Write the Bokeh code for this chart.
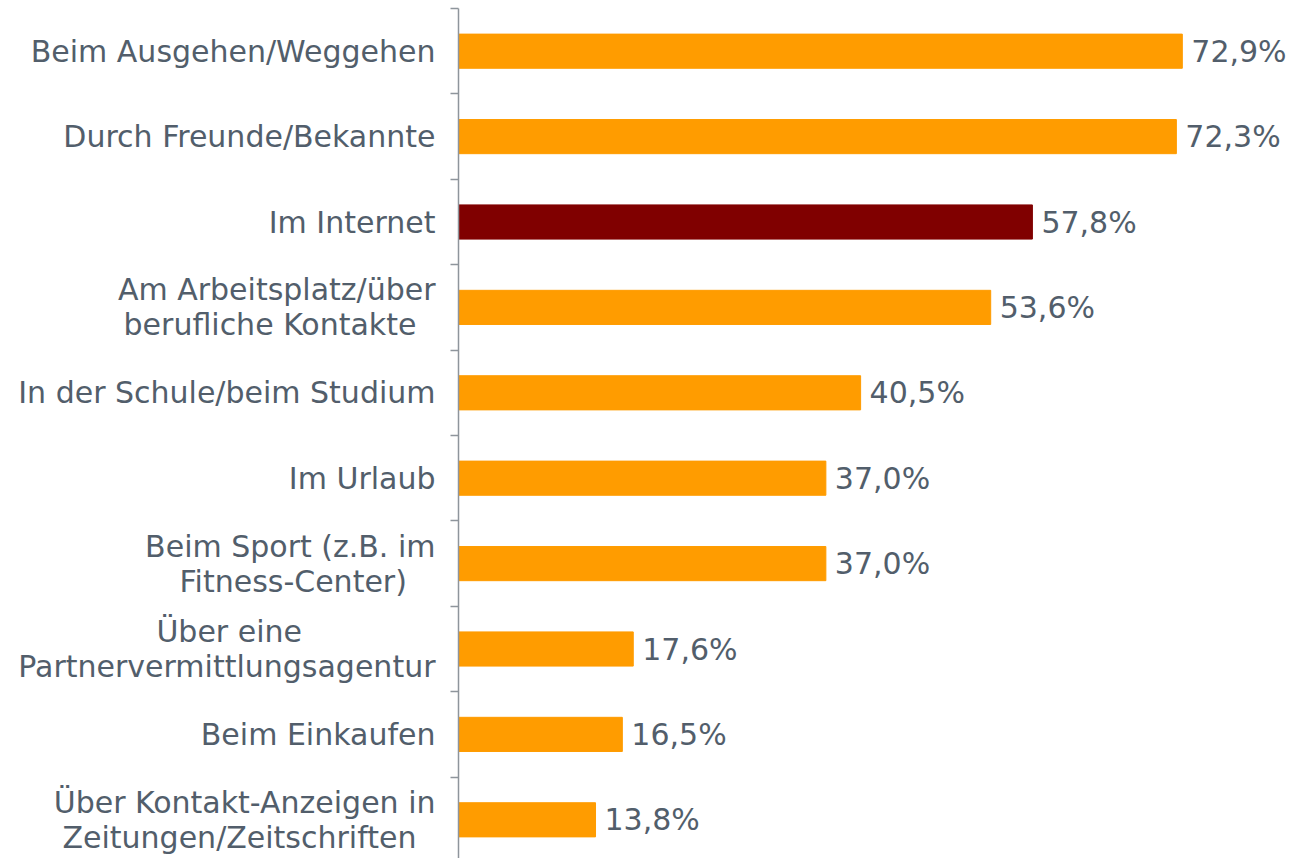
from bokeh.plotting import figure
from bokeh.models import Range1d, FixedTicker, LinearAxis, ColumnDataSource
from bokeh.embed import file_html
from bokeh.resources import INLINE
from bokeh.core.properties import value

NB = "\u00a0"
categories = [
    "Beim Ausgehen/Weggehen",
    "Durch Freunde/Bekannte",
    "Im Internet",
    "Am Arbeitsplatz/über\nberufliche Kontakte" + NB * 2,
    "In der Schule/beim Studium",
    "Im Urlaub",
    "Beim Sport (z.B. im\nFitness-Center)" + NB * 3,
    "Über eine" + NB * 14 + "\nPartnervermittlungsagentur",
    "Beim Einkaufen",
    "Über Kontakt-Anzeigen in\nZeitungen/Zeitschriften" + NB * 2,
]
values = [72.9, 72.3, 57.8, 53.6, 40.5, 37.0, 37.0, 17.6, 16.5, 13.8]
highlight = 2  # "Im Internet"

ORANGE = "#ff9c00"
DARKRED = "#800000"
TEXT = "#525e6b"
AXIS = "#8e959c"
FONT = "DejaVu Sans"

n = len(categories)
ys = [n - 0.5 - i for i in range(n)]
colors = [DARKRED if i == highlight else ORANGE for i in range(n)]
labels = [f"{v:.1f}%".replace(".", ",") for v in values]

src = ColumnDataSource(dict(y=ys, v=values, color=colors, label=labels))

FRAME_H = 850
BAND_PX = 85.4
p = figure(width=1297, height=858, output_backend="svg", toolbar_location=None,
           x_range=Range1d(0, 84.5), y_range=Range1d(n - FRAME_H / BAND_PX, n),
           min_border_left=458, min_border_right=0, min_border_top=8, min_border_bottom=0)
p.outline_line_color = None
p.grid.visible = False
p.xaxis.visible = False
p.background_fill_color = "white"
p.border_fill_color = "white"

p.hbar(y="y", right="v", left=0, height=0.4, color="color", source=src)
p.text(x="v", y="y", text="label", source=src, x_offset=9, text_baseline="middle",
       text_align="left", text_color=TEXT, text_font=value(FONT), text_font_size="30px")

# tick axis (category boundaries)
ticks = list(range(1, n + 1))
ax = p.yaxis[0]
ax.ticker = FixedTicker(ticks=ticks)
ax.major_label_overrides = {t: "" for t in ticks}
ax.axis_line_color = AXIS
ax.axis_line_width = 1.5
ax.major_tick_line_color = AXIS
ax.major_tick_line_width = 1.5
ax.major_tick_in = 0
ax.major_tick_out = 8
ax.minor_tick_line_color = None
ax.major_label_standoff = 0

# label axis (category centers)
lab = LinearAxis(ticker=FixedTicker(ticks=ys),
                 major_label_overrides={y: c for y, c in zip(ys, categories)})
lab.axis_line_color = None
lab.major_tick_line_color = None
lab.minor_tick_line_color = None
lab.major_label_standoff = 9
lab.major_label_text_font = FONT
lab.major_label_text_font_size = "30px"
lab.major_label_text_color = TEXT
lab.major_label_text_line_height = 1.0
p.add_layout(lab, "left")

open("out.html", "w").write(file_html(p, INLINE))
